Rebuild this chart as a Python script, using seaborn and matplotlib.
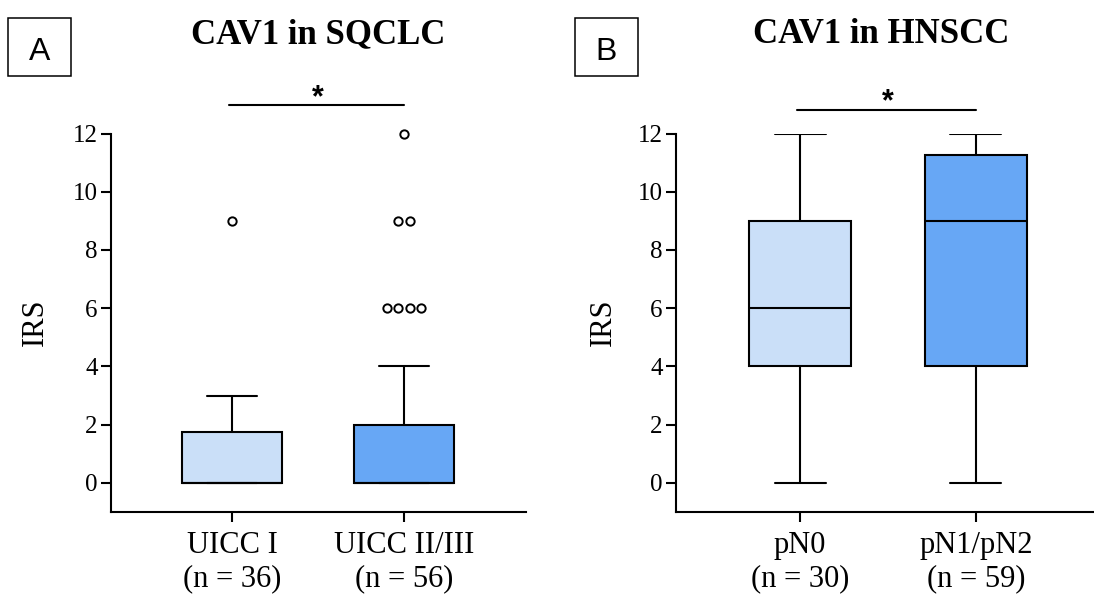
import matplotlib
matplotlib.use("Agg")
from collections import Counter

import matplotlib.pyplot as plt
from matplotlib.patches import Rectangle
import numpy as np
import seaborn as sns

sns.set_theme(style="ticks")
plt.rcParams["font.family"] = ["Liberation Serif", "DejaVu Serif"]
plt.rcParams.update({
    "text.color": "black",
    "axes.labelcolor": "black",
    "xtick.color": "black",
    "ytick.color": "black",
    "axes.edgecolor": "black",
})

# Panel A: CAV1 immunoreactive score in squamous cell lung cancer by UICC stage
sqclc_groups = ["UICC I", "UICC II/III"]
sqclc_n = [36, 56]
sqclc_q1 = [0, 0]
sqclc_median = [0, 0]
sqclc_q3 = [1.75, 2]
sqclc_whislo = [0, 0]
sqclc_whishi = [3, 4]
sqclc_outliers = [[9], [6, 6, 6, 6, 9, 9, 12]]

# Panel B: CAV1 immunoreactive score in head and neck SCC by nodal status
hnscc_groups = ["pN0", "pN1/pN2"]
hnscc_n = [30, 59]
hnscc_q1 = [4, 4]
hnscc_median = [6, 9]
hnscc_q3 = [9, 11.25]
hnscc_whislo = [0, 0]
hnscc_whishi = [12, 12]
hnscc_outliers = [[], []]

y_ticks = [0, 2, 4, 6, 8, 10, 12]
box_colors = ["#CADFF8", "#67A7F5"]

W, H = 1094, 597
fig = plt.figure(figsize=(W / 100, H / 100), dpi=100)
fig.patch.set_facecolor("white")


def px_axes(left, top, right, bottom):
    return fig.add_axes([left / W, 1 - bottom / H, (right - left) / W, (bottom - top) / H])


def draw_panel(ax, groups, n, q1, med, q3, lo, hi, outliers, xlim):
    stats = [
        dict(med=m, q1=a, q3=b, whislo=l, whishi=h, fliers=[], label=g)
        for g, a, m, b, l, h in zip(groups, q1, med, q3, lo, hi)
    ]
    lw = 1.5
    bp = ax.bxp(
        stats,
        positions=range(len(groups)),
        widths=0.58,
        capwidths=0.29,
        patch_artist=True,
        showfliers=False,
        boxprops=dict(linewidth=lw, edgecolor="black"),
        whiskerprops=dict(linewidth=lw, color="black"),
        capprops=dict(linewidth=lw, color="black"),
        medianprops=dict(linewidth=lw, color="black"),
    )
    for patch, c in zip(bp["boxes"], box_colors):
        patch.set_facecolor(c)
        patch.set_zorder(2)

    # repeated outlier values are spread sideways so every case is visible
    for i, vals in enumerate(outliers):
        for v, k in Counter(vals).items():
            xs = i + (np.arange(k) - (k - 1) / 2) * 0.067
            ax.plot(xs, [v] * k, "o", mfc="white", mec="black", ms=6, mew=1.4,
                    clip_on=False, zorder=4)

    ax.set_xlim(*xlim)
    ax.set_ylim(-1, 12)
    ax.set_yticks(y_ticks)
    ax.set_xticks(range(len(groups)))
    ax.set_xticklabels([f"{g}\n(n = {k})" for g, k in zip(groups, n)],
                       fontsize=22, linespacing=1.2)
    ax.tick_params(axis="y", labelsize=18, length=7.5, width=1.5, color="black", pad=2)
    ax.tick_params(axis="x", length=7.5, width=1.5, color="black", pad=6)
    for s in ("left", "bottom"):
        ax.spines[s].set_linewidth(1.5)
        ax.spines[s].set_color("black")
    sns.despine(ax=ax)
    ax.set_ylabel("IRS", fontsize=22, color="black")
    ax.set_facecolor("white")
    ax.grid(False)


axA = px_axes(111, 133.5, 526, 512)
draw_panel(axA, sqclc_groups, sqclc_n, sqclc_q1, sqclc_median, sqclc_q3,
           sqclc_whislo, sqclc_whishi, sqclc_outliers, (-0.705, 1.71))
axA.yaxis.set_label_coords((50 - 111) / 415, 0.5)

axB = px_axes(676, 133.5, 1100, 512)
draw_panel(axB, hnscc_groups, hnscc_n, hnscc_q1, hnscc_median, hnscc_q3,
           hnscc_whislo, hnscc_whishi, hnscc_outliers, (-0.705, 1.705))
axB.yaxis.set_label_coords((618 - 676) / 424, 0.5)

# significance brackets
for ax, y_bar, y_star in ((axA, 12.98, 12.93), (axB, 12.8, 12.79)):
    ax.plot([-0.02, 1.0], [y_bar, y_bar], color="black", lw=1.5, clip_on=False)
    ax.text(0.5, y_star, "*", ha="center", va="baseline", fontsize=22,
            fontweight="bold", family="Liberation Sans", color="black",
            clip_on=False)

# panel titles
fig.text(318.5 / W, 1 - 43 / H, "CAV1 in SQCLC", ha="center", va="baseline",
         fontsize=25, fontweight="bold", color="black")
fig.text(881 / W, 1 - 43 / H, "CAV1 in HNSCC", ha="center", va="baseline",
         fontsize=25, fontweight="bold", color="black")

# boxed panel letters
for letter, x0 in (("A", 8), ("B", 575)):
    fig.patches.append(Rectangle((x0 / W, 1 - 76 / H), 63 / W, 58 / H,
                                 transform=fig.transFigure, fill=False,
                                 lw=1.1, ec="black"))
    fig.text((x0 + 31.5) / W, 1 - 59.5 / H, letter, ha="center", va="baseline",
             fontsize=23, family="Liberation Sans", color="black")

fig.savefig("out.png", dpi=100, facecolor="white")
